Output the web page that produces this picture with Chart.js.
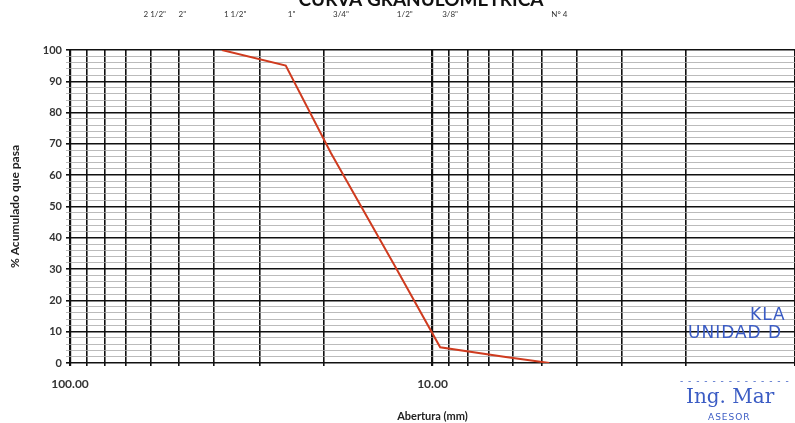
<!DOCTYPE html>
<html>
<head>
<meta charset="utf-8">
<script src="https://cdn.jsdelivr.net/npm/chart.js@4"></script>
<style>
  body { margin: 0; background: #fff; }
  #wrap { position: relative; width: 795px; height: 423px; overflow: hidden; }
  .stamp { position: absolute; color: #3b5cc4; white-space: nowrap; }
</style>
</head>
<body>
<div id="wrap">
  <canvas id="js--chart"></canvas>
  <div class="stamp" style="left:750px;top:304px;font:17px 'DejaVu Sans';letter-spacing:1px;">KLA</div>
  <div class="stamp" style="left:688px;top:322px;font:17px 'DejaVu Sans';letter-spacing:1px;">UNIDAD D</div>
  <div class="stamp" style="left:680px;top:376px;font:9px 'DejaVu Sans';letter-spacing:1px;">- - - - - - - - - - - - - -</div>
  <div class="stamp" style="left:686px;top:384px;font:20px 'DejaVu Serif';">Ing. Mar</div>
  <div class="stamp" style="left:708px;top:412px;font:9px 'DejaVu Sans';letter-spacing:1px;">ASESOR</div>
</div>
<script>
// abertura de tamices (mm) y % que pasa
const openings = [38.1, 25.4, 19.05, 12.7, 9.525, 6.35, 4.76];
const passing = [100, 95, 67, 31, 5, 2, 0];

// etiquetas de tamices arriba
const sieveNames = ['2 1/2"', '2"', '1 1/2"', '1"', '3/4"', '1/2"', '3/8"', 'N\u00b0 4'];
const sieveSizes = [63.5, 50.8, 38.1, 25.4, 19.05, 12.7, 9.525, 4.76];

const xLabels = [100, 10];

const font = "Lato";

const topLabels = {
  id: 'topLabels',
  afterDraw(chart) {
    const ctx = chart.ctx;
    const x = chart.scales.x;
    ctx.save();
    ctx.fillStyle = '#111';
    ctx.font = 'bold 19px ' + font;
    ctx.textAlign = 'center';
    ctx.textBaseline = 'alphabetic';
    ctx.fillText('CURVA GRANULOMETRICA', 421, 6);
    ctx.font = '8px ' + font;
    ctx.fillStyle = '#333';
    ctx.textAlign = 'left';
    for (let i = 0; i < sieveNames.length; i++) {
      ctx.fillText(sieveNames[i], x.getPixelForValue(sieveSizes[i]) + 2, 17);
    }
    ctx.restore();
  }
};

const points = openings.map(function (d, i) {
  return { x: d, y: passing[i] };
});

new Chart(document.getElementById('js--chart'), {
  type: 'scatter',
  data: {
    datasets: [{
      data: points,
      showLine: true,
      borderColor: '#cf3b1f',
      borderWidth: 2,
      pointRadius: 0,
      tension: 0
    }]
  },
  options: {
    responsive: true,
    maintainAspectRatio: false,
    animation: false,
    layout: { padding: { top: 50, right: 0, bottom: 0, left: 0 } },
    plugins: { legend: { display: false }, tooltip: { enabled: false } },
    scales: {
      x: {
        type: 'logarithmic',
        reverse: true,
        min: 1,
        max: 100,
        afterFit: function (s) { s.height = 60; s.paddingRight = 0; s.paddingLeft = 0; },
        afterBuildTicks: function (s) {
          const t = [];
          for (let v = 100; v >= 20; v -= 10) t.push({ value: v });
          for (let v = 10; v >= 1; v -= 1) t.push({ value: v });
          s.ticks = t;
        },
        border: { display: false },
        grid: {
          color: '#111',
          lineWidth: function (c) { return (c.tick && (c.tick.value === 100 || c.tick.value === 10)) ? 2.2 : 1.6; },
          tickLength: 3
        },
        ticks: {
          autoSkip: false,
          maxRotation: 0,
          padding: 11,
          color: '#333',
          font: { family: font, size: 12, weight: 'bold' },
          callback: function (v) { return xLabels.includes(v) ? v.toFixed(2) : ''; }
        },
        title: {
          display: true,
          text: 'Abertura (mm)',
          color: '#222',
          padding: { top: 0, bottom: 0 },
          font: { family: font, size: 11, weight: 'bold' }
        }
      },
      y: {
        min: 0,
        max: 100,
        afterFit: function (s) { s.width = 70; },
        border: { display: false },
        grid: {
          color: function (c) { return c.tick && c.tick.value % 10 === 0 ? '#111' : '#aaa'; },
          lineWidth: function (c) { return c.tick && c.tick.value % 10 === 0 ? 1.6 : 0.8; },
          tickLength: 4
        },
        ticks: {
          stepSize: 2,
          autoSkip: false,
          padding: 4,
          color: '#333',
          font: { family: font, size: 11, weight: 'bold' },
          callback: function (v) { return v % 10 === 0 ? v : ''; }
        },
        title: {
          display: true,
          text: '% Acumulado que pasa',
          color: '#222',
          padding: { top: 8, bottom: 4 },
          font: { family: font, size: 12, weight: 'bold' }
        }
      }
    }
  },
  plugins: [topLabels]
});
</script>
</body>
</html>
